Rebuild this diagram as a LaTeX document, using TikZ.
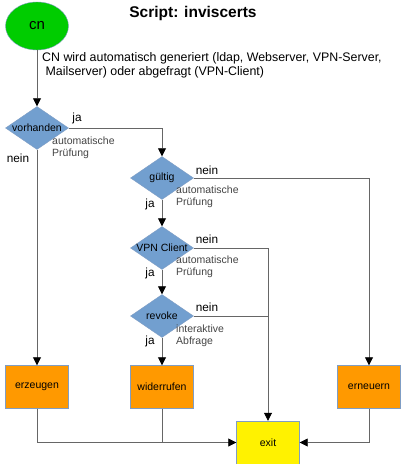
\documentclass[tikz,border=0pt]{standalone}
\usepackage{fontspec}
\setmainfont{Liberation Sans}
\usetikzlibrary{shapes.geometric,arrows.meta}
\definecolor{diablue}{HTML}{729FCF}
\definecolor{rimblue}{HTML}{7F9DC4}
\definecolor{boxorange}{HTML}{FF9900}
\definecolor{linegrey}{HTML}{666666}
\definecolor{notegrey}{HTML}{444444}
\tikzset{
  txt/.style={font=\fontsize{10.5bp}{12bp}\selectfont},
  dia/.style={txt,diamond,draw=rimblue,fill=diablue,inner sep=0pt,minimum width=63bp,minimum height=43bp,aspect=1.47},
  act/.style={txt,rectangle,draw=rimblue,fill=boxorange,minimum width=63bp,minimum height=43bp},
  yes/.style={font=\fontsize{11.8bp}{12bp}\selectfont},
  note/.style={txt,text=notegrey,anchor=north west,align=left,inner sep=0pt},
  line/.style={draw=linegrey,line width=0.8bp},
  flow/.style={line,-{Triangle[color=black,length=8bp,width=8bp]}}
}
\begin{document}
\begin{tikzpicture}[x=1bp,y=-1bp]
	    \useasboundingbox (0,0) rectangle (400,464);
	    \node[font=\fontsize{15.5bp}{18bp}\selectfont\bfseries] (title) at (193,13) {Script: inviscerts};
	    \node[ellipse,draw=rimblue,fill=green!80!black,minimum width=63bp,minimum height=48bp,font=\fontsize{15bp}{18bp}\selectfont] (cn) at (37,26) {cn};
	    \node[anchor=north west,align=left,inner sep=0pt,font=\fontsize{12.4bp}{14bp}\selectfont] (info) at (42,52) {CN wird automatisch generiert (ldap, Webserver, VPN-Server,\\\ Mailserver) oder abgefragt (VPN-Client)};
	    % Entscheidungen
	    \node[dia] (vorh) at (37,128) {vorhanden};
	    \node[dia] (gueltig) at (162,178) {gültig};
	    \node[dia] (vpn) at (162,248) {VPN Client};
	    \node[dia] (revoke) at (162,316) {revoke};
	    % Aktionen
	    \node[act] (erz) at (37,387) {erzeugen};
	    \node[act] (wid) at (162,387) {widerrufen};
	    \node[act] (ern) at (369,387) {erneuern};
	    \node[act,fill=yellow] (exit) at (268,442.5) {exit};
	    % Pfeile
	    \draw[flow] (cn) -- (vorh);
	    \draw[flow] (vorh.east) -| (gueltig.north);
	    \draw[flow] (vorh.south) -- (erz.north);
	    \draw[flow] (gueltig.south) -- (vpn.north);
	    \draw[flow] (gueltig.east) -| (ern.north);
	    \draw[flow] (vpn.south) -- (revoke.north);
	    \draw[flow] (vpn.east) -| (exit.north);
	    \draw[line] (revoke.east) -- (revoke.east -| exit.north);
	    \draw[flow] (revoke.south) -- (wid.north);
	    \draw[flow] (erz.south) |- (exit.west);
	    \draw[line] (wid.south) -- (wid.south |- exit.west);
	    \draw[flow] (ern.south) |- (exit.east);
	    % ja / nein
	    \node[yes] (ja1) at (77,118) {ja};
	    \node[yes] (nein1) at (18,158) {nein};
	    \node[yes] (nein2) at (207,170) {nein};
	    \node[yes] (ja2) at (150,204) {ja};
	    \node[yes] (nein3) at (207,239) {nein};
	    \node[yes] (ja3) at (150,273) {ja};
	    \node[yes] (nein4) at (207,307) {nein};
	    \node[yes] (ja4) at (150,341) {ja};
	    % Hinweise
	    \node[note] (n1) at (52,137) {automatische\\Prüfung};
	    \node[note] (n2) at (176,186) {automatische\\Prüfung};
	    \node[note] (n3) at (176,256) {automatische\\Prüfung};
	    \node[note] (n4) at (176,325) {interaktive\\Abfrage};
	\end{tikzpicture}
\end{document}
